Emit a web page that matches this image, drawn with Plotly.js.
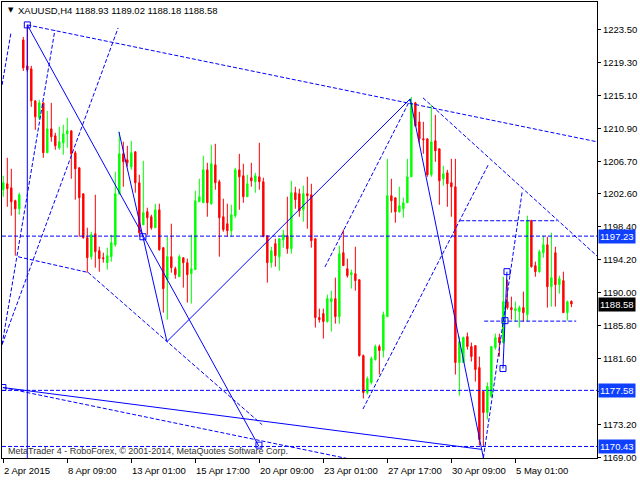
<!DOCTYPE html>
<html>
<head>
<meta charset="utf-8">
<script src="https://cdn.plot.ly/plotly-3.0.1.min.js"></script>
<style>html,body{margin:0;padding:0;background:#fff;}#chart{width:640px;height:480px;}</style>
</head>
<body>
<div id="chart"></div>
<script>
// ---- data (XAUUSD H4 bars) ----
const open = [1203.14,1203.90,1203.39,1201.74,1200.72,1222.23,1218.92,1218.54,1214.47,1212.30,
1214.21,1207.85,1210.90,1210.01,1208.48,1209.12,1210.27,1210.65,1207.85,1205.94,
1202.63,1197.03,1194.61,1197.54,1195.37,1194.48,1193.85,1194.61,1196.14,1202.63,
1207.72,1206.96,1206.07,1207.98,1204.03,1198.68,1200.34,1199.70,1198.30,1200.59,
1195.76,1191.68,1194.61,1193.08,1192.06,1194.48,1193.85,1192.45,1192.96,1201.61,
1201.48,1205.68,1201.36,1206.32,1204.16,1199.70,1198.81,1197.92,1199.83,1205.68,
1204.92,1202.25,1204.67,1204.16,1204.79,1204.16,1197.28,1193.85,1196.27,1194.61,
1196.77,1197.28,1195.63,1202.76,1202.63,1200.59,1202.63,1202.50,1196.90,1186.85,
1187.36,1186.34,1188.88,1189.27,1186.97,1195.12,1193.08,1192.32,1192.45,1191.68,
1182.01,1177.30,1178.58,1181.50,1183.16,1182.65,1186.97,1202.38,1202.12,1200.34,
1200.72,1201.48,1204.79,1214.21,1211.79,1209.63,1209.63,1205.05,1209.37,1208.36,
1204.54,1205.30,1204.03,1203.52,1181.12,1181.12,1184.43,1183.16,1183.28,1180.48,
1177.43,1174.76,1176.79,1183.03,1184.30,1183.67,1188.88,1188.12,1187.74,1187.61,
1188.12,1187.23,1199.19,1193.47,1192.70,1195.12,1196.14,1190.79,1195.12,1191.05,
1191.56,1187.48,1188.93];
const high = [1204.92,1207.21,1205.81,1201.87,1202.76,1222.61,1224.14,1218.92,1214.47,1214.59,
1214.21,1213.19,1214.21,1210.39,1211.16,1211.41,1212.30,1210.65,1208.10,1205.94,
1202.63,1198.30,1197.79,1202.50,1195.88,1195.12,1195.76,1197.41,1205.43,1210.52,
1209.25,1208.74,1209.37,1207.98,1205.05,1206.83,1200.85,1199.96,1201.36,1201.36,
1195.76,1197.15,1198.81,1193.34,1194.87,1194.48,1194.36,1197.41,1203.01,1204.54,
1207.47,1206.57,1208.87,1208.99,1204.41,1202.00,1201.36,1201.23,1205.94,1207.72,
1206.45,1205.05,1206.57,1205.30,1209.12,1204.67,1197.28,1195.88,1196.90,1196.90,
1198.05,1202.25,1204.28,1203.52,1203.27,1203.65,1204.79,1203.90,1196.90,1187.99,
1187.99,1189.78,1190.28,1191.94,1196.01,1198.05,1194.36,1192.96,1195.88,1191.68,
1182.14,1179.34,1181.88,1183.41,1183.41,1187.61,1207.08,1204.54,1202.12,1203.52,
1202.12,1207.08,1214.97,1214.34,1213.07,1211.79,1209.63,1213.95,1212.68,1208.36,
1206.19,1205.68,1207.08,1207.08,1184.43,1184.43,1184.94,1183.67,1183.28,1181.88,
1177.43,1178.58,1183.16,1184.81,1184.81,1192.06,1191.68,1189.52,1188.88,1188.38,
1190.16,1199.83,1199.32,1193.98,1195.50,1197.28,1197.15,1197.67,1195.88,1192.19,
1192.70,1189.01,1189.02];
const low = [1202.25,1200.97,1199.83,1194.74,1199.96,1218.28,1218.16,1213.70,1210.77,1212.05,
1207.21,1207.85,1209.25,1208.23,1208.23,1207.59,1208.48,1204.54,1201.87,1197.15,
1196.90,1192.57,1194.23,1193.21,1192.70,1193.85,1192.96,1193.98,1195.88,1202.50,
1203.52,1206.07,1205.68,1202.76,1197.15,1198.68,1197.41,1198.05,1198.30,1195.37,
1187.48,1186.59,1192.57,1191.81,1192.06,1190.67,1188.76,1188.63,1192.96,1201.61,
1201.48,1199.70,1201.23,1203.14,1194.61,1197.79,1197.15,1197.15,1199.57,1200.59,
1201.48,1202.25,1203.52,1202.76,1203.14,1197.15,1191.30,1193.21,1193.34,1192.83,
1195.76,1194.99,1194.99,1200.72,1199.70,1199.07,1198.17,1195.76,1185.58,1186.21,
1184.18,1186.21,1185.07,1186.08,1186.08,1193.47,1191.94,1190.54,1190.28,1181.88,
1176.54,1177.05,1178.32,1181.37,1179.59,1181.76,1186.97,1200.21,1198.94,1200.21,
1199.57,1201.48,1204.79,1211.16,1209.00,1207.72,1204.79,1204.79,1206.70,1201.23,
1203.65,1200.97,1199.70,1179.59,1176.92,1181.12,1182.77,1181.25,1178.70,1170.56,
1170.43,1173.87,1176.79,1182.77,1181.88,1183.54,1187.86,1186.59,1186.34,1185.58,
1186.34,1186.34,1193.21,1192.06,1192.57,1194.48,1188.12,1188.25,1188.25,1189.90,
1187.48,1186.46,1188.18];
const close = [1204.03,1203.27,1201.61,1200.72,1202.50,1218.67,1218.41,1214.47,1212.43,1214.21,
1207.85,1210.90,1209.88,1208.74,1209.25,1210.27,1210.65,1207.72,1205.81,1202.12,
1197.03,1194.48,1197.41,1195.25,1194.36,1194.36,1194.74,1196.39,1202.63,1207.72,
1206.70,1206.57,1207.85,1204.03,1197.67,1200.21,1199.57,1198.30,1200.59,1195.50,
1190.54,1194.61,1193.21,1192.32,1194.61,1193.85,1192.32,1193.08,1201.74,1202.25,
1205.68,1201.48,1206.45,1204.03,1199.57,1198.05,1197.92,1199.96,1205.68,1204.79,
1202.25,1203.90,1204.28,1204.92,1204.16,1197.15,1193.85,1195.37,1194.74,1196.90,
1197.41,1195.63,1202.76,1201.87,1200.47,1202.63,1202.38,1196.65,1186.85,1186.59,
1186.34,1189.27,1189.27,1186.97,1194.99,1193.47,1192.19,1192.57,1191.56,1182.01,
1177.30,1179.08,1181.63,1183.16,1182.65,1187.23,1202.38,1201.74,1200.34,1201.10,
1201.48,1204.79,1214.21,1211.28,1209.63,1209.50,1205.05,1209.25,1208.10,1204.28,
1205.17,1203.90,1203.52,1181.12,1183.79,1184.30,1183.16,1181.88,1180.23,1171.32,
1174.76,1178.07,1183.16,1184.30,1183.67,1188.88,1188.12,1187.86,1187.99,1188.12,
1187.48,1199.19,1193.34,1192.70,1195.25,1196.14,1190.79,1191.94,1191.05,1191.81,
1187.48,1188.88,1188.58];

// x-axis tick positions (bar index) and labels
const xTickIdx = [0,16,32,48,64,80,96,112,128];
const xTickText = ['2 Apr 2015','8 Apr 09:00','13 Apr 01:00','15 Apr 17:00','20 Apr 09:00','23 Apr 01:00','27 Apr 17:00','30 Apr 09:00','5 May 01:00'];
// price-axis ticks (the 1177.40 label sits under the 1177.58 tag, so it is left blank)
const yTickVals = [1223.50,1219.30,1215.10,1210.90,1206.70,1202.60,1198.40,1194.20,1190.00,1185.80,1181.60,1177.40,1173.20,1169.00];
const yTickHidden = [1177.40];
// horizontal levels with their price tags
const levels = [1197.23,1177.58,1170.43];
const lastPrice = 1188.58;
const symbolHeader = 'XAUUSD,H4 1188.93 1189.02 1188.18 1188.58';

// analysis objects drawn on the chart, in (bar index, price)
const solidLines = [
  [6,1224.14,6,1160],
  [6,1224.14,63.9,1170.43],
  [28.9,1210.52,40.9,1183.79],
  [40.9,1183.79,101.7,1214.72],
  [101.7,1214.72,120.2,1168.5],
  [-0.1,1177.94,119.7,1170.05],
  [124.9,1180.36,125.4,1186.46],
  [125.4,1186.46,125.9,1192.7]
];
const dashedLines = [
  [6,1224.14,148.4,1209.25],
  [-0.3,1183.41,28.7,1223.76],
  [-0.3,1183.41,12.9,1223.5],
  [-0.3,1216.5,1.9,1223.1],
  [-0.1,1177.94,89.7,1168.5],
  [3.7,1194.6,21.2,1192.6],
  [21.2,1192.6,64.7,1173.2],
  [80.4,1193.3,101.7,1214.6],
  [89.9,1175.2,121.2,1206.3],
  [104.9,1214.85,148.4,1194.7],
  [120.0,1169.0,129.7,1202.9],
  [114.2,1199.19,138.4,1199.19],
  [120.2,1186.4,143.2,1186.4]
];
const markerIdx = [6,34.9,63.9,-0.1,125.9,125.4,124.9];
const markerPrice = [1224.14,1197.15,1170.6,1177.94,1192.7,1186.46,1180.36];

// ---- layout helpers ----
const W = 640, H = 480, ML = 2, MR = 43, MT = 2, MB = 22;
const PW = W - ML - MR, PH = H - MT - MB;
const px = x => (x - ML) / PW;
const py = y => (H - MB - y) / PH;
const BLUE = '#0000ff';
const FONT = 'Liberation Sans, Arial, sans-serif';

const idx = open.map((_, i) => i);

const traces = [
  {
    type: 'candlestick', x: idx, open: open, high: high, low: low, close: close,
    increasing: {line: {color: '#00ff00', width: 1}, fillcolor: '#00ff00'},
    decreasing: {line: {color: '#ff0000', width: 1}, fillcolor: '#ff0000'},
    whiskerwidth: 0, hoverinfo: 'skip', showlegend: false
  },
  {
    type: 'scatter', mode: 'markers', x: markerIdx, y: markerPrice,
    marker: {symbol: 'square-open', size: 6, color: BLUE, line: {width: 1, color: BLUE}},
    hoverinfo: 'skip', showlegend: false, cliponaxis: true
  }
];

const shapes = [];
levels.forEach(v => shapes.push({type: 'line', xref: 'paper', yref: 'y', x0: 0, x1: 1, y0: v, y1: v,
  line: {color: BLUE, width: 1, dash: '4px,2px'}}));
solidLines.forEach(l => shapes.push({type: 'line', xref: 'x', yref: 'y', x0: l[0], y0: l[1], x1: l[2], y1: l[3],
  line: {color: BLUE, width: 1}}));
dashedLines.forEach(l => shapes.push({type: 'line', xref: 'x', yref: 'y', x0: l[0], y0: l[1], x1: l[2], y1: l[3],
  line: {color: BLUE, width: 1, dash: '4px,2px'}}));

const annotations = [];
annotations.push({xref: 'paper', yref: 'paper', x: px(6), y: py(10.5), xanchor: 'left', yanchor: 'middle',
  text: '▼', showarrow: false, font: {family: 'DejaVu Sans', size: 7, color: '#000'}});
annotations.push({xref: 'paper', yref: 'paper', x: px(16), y: py(10.5), xanchor: 'left', yanchor: 'middle',
  text: symbolHeader, showarrow: false, font: {family: FONT, size: 9.5, color: '#000'}});
annotations.push({xref: 'paper', yref: 'paper', x: px(6), y: py(451), xanchor: 'left', yanchor: 'middle',
  text: 'MetaTrader 4 - RoboForex, © 2001-2014, MetaQuotes Software Corp.', showarrow: false,
  font: {family: FONT, size: 9, color: '#333'}});
xTickIdx.forEach((t, k) => annotations.push({xref: 'x', yref: 'paper', x: t, y: py(471), xanchor: 'left', yanchor: 'middle',
  xshift: -1, text: xTickText[k], showarrow: false, font: {family: FONT, size: 9.5, color: '#000'}}));
levels.forEach(v => annotations.push({xref: 'paper', yref: 'y', x: 1, y: v, xanchor: 'left', yanchor: 'middle', xshift: 1,
  text: v.toFixed(2), showarrow: false, bgcolor: '#1040ff', borderpad: 1,
  font: {family: FONT, size: 9.5, color: '#fff'}}));
annotations.push({xref: 'paper', yref: 'y', x: 1, y: lastPrice, xanchor: 'left', yanchor: 'middle', xshift: 1,
  text: lastPrice.toFixed(2), showarrow: false, bgcolor: '#000', borderpad: 1,
  font: {family: FONT, size: 9.5, color: '#fff'}});

const layout = {
  width: W, height: H,
  margin: {l: ML, r: MR, t: MT, b: MB, pad: 0},
  paper_bgcolor: '#fff', plot_bgcolor: '#fff',
  showlegend: false, hovermode: false, boxgap: 0.5,
  xaxis: {
    range: [-0.325, 148.4], rangeslider: {visible: false}, type: 'linear',
    tickvals: xTickIdx, showticklabels: false, ticks: 'outside', ticklen: 4, tickcolor: '#000',
    showline: true, linecolor: '#000', linewidth: 1, mirror: true,
    showgrid: false, zeroline: false, fixedrange: true
  },
  yaxis: {
    range: [1168.96, 1227.06], side: 'right',
    tickvals: yTickVals, ticktext: yTickVals.map(v => yTickHidden.includes(v) ? '' : v.toFixed(2)),
    ticks: 'outside', ticklen: 3, tickcolor: '#000',
    tickfont: {family: FONT, size: 9.5, color: '#000'},
    showline: true, linecolor: '#000', linewidth: 1, mirror: true,
    showgrid: false, zeroline: false, fixedrange: true
  },
  shapes: shapes,
  annotations: annotations
};

Plotly.newPlot('chart', traces, layout, {staticPlot: true, displayModeBar: false});
</script>
</body>
</html>
